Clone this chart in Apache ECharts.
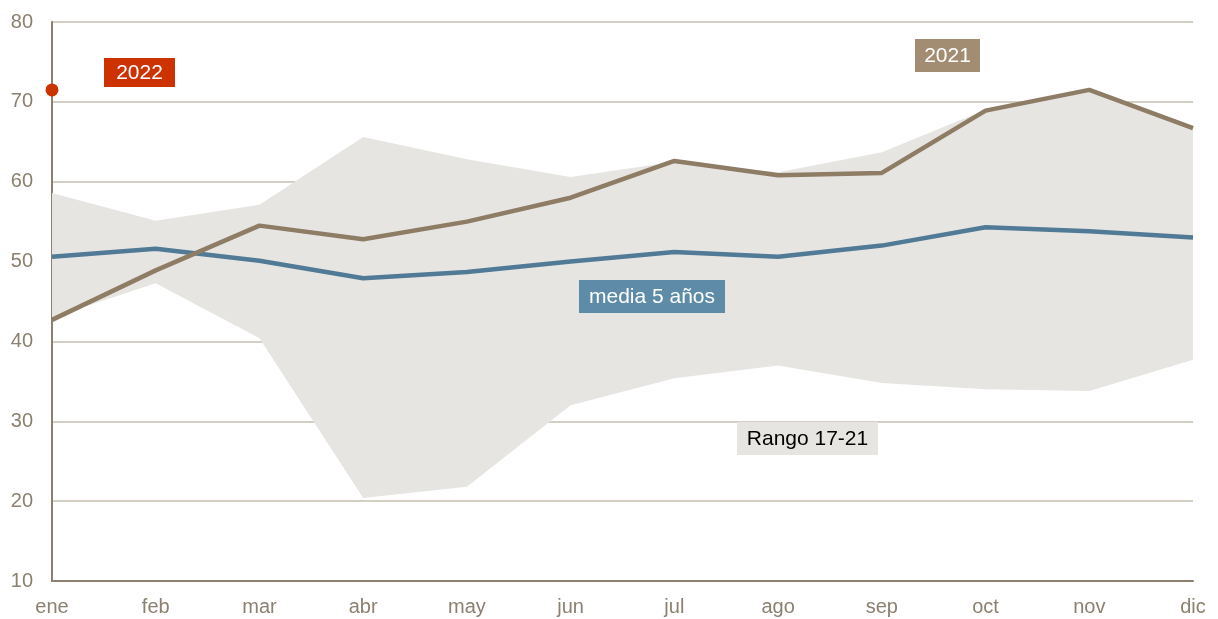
<!DOCTYPE html>
<html>
<head>
<meta charset="utf-8">
<script src="https://cdn.jsdelivr.net/npm/echarts@6/dist/echarts.min.js"></script>
<style>
  html, body { margin: 0; padding: 0; background: #fff; }
  #chart { width: 1218px; height: 619px; }
</style>
</head>
<body>
<div id="chart"></div>
<script>
// meses
var meses = ['ene', 'feb', 'mar', 'abr', 'may', 'jun', 'jul', 'ago', 'sep', 'oct', 'nov', 'dic'];
// rango 17-21
var rangoMin = [43.0, 47.3, 40.4, 20.4, 21.8, 32.0, 35.4, 37.0, 34.8, 34.0, 33.8, 37.7];
var rangoMax = [58.6, 55.1, 57.1, 65.6, 62.8, 60.6, 62.5, 61.2, 63.7, 69.0, 71.5, 66.7];
// media 5 años
var media = [50.6, 51.6, 50.1, 47.9, 48.7, 50.0, 51.2, 50.6, 52.0, 54.3, 53.8, 53.0];
// 2021
var y2021 = [42.7, 48.9, 54.5, 52.8, 55.0, 58.0, 62.6, 60.8, 61.1, 68.9, 71.5, 66.7];
// 2022
var y2022 = [71.5, null, null, null, null, null, null, null, null, null, null, null];

var rangoDiff = rangoMax.map(function (v, i) { return +(v - rangoMin[i]).toFixed(2); });

var txtColor = '#8c8070';
var font = 'Liberation Sans, Arial, sans-serif';

var myChart = echarts.init(document.getElementById('chart'));

function etiqueta(id, x, y, w, h, texto, fondo, color) {
    return {
        type: 'group',
        id: id,
        left: x, top: y,
        z: 100,
        children: [
            { type: 'rect', z: 100, shape: { x: 0, y: 0, width: w, height: h }, style: { fill: fondo } },
            { type: 'text', z: 101, x: w / 2, y: h / 2 + 1,
              style: { text: texto, fill: color, font: '21px ' + font, align: 'center', verticalAlign: 'middle' } }
        ]
    };
}

var option = {
    animation: false,
    grid: { left: 52, right: 25, top: 22, bottom: 38 },
    xAxis: {
        type: 'category',
        data: meses,
        boundaryGap: false,
        axisLine: { lineStyle: { color: txtColor, width: 2 } },
        axisTick: { show: false },
        axisLabel: { color: txtColor, fontSize: 20, fontFamily: font, margin: 16 },
        splitLine: { show: false }
    },
    yAxis: {
        type: 'value',
        min: 10, max: 80, interval: 10,
        axisLine: { show: true, lineStyle: { color: txtColor, width: 2 } },
        axisTick: { show: false },
        axisLabel: { color: txtColor, fontSize: 20, fontFamily: font, margin: 19 },
        splitLine: { lineStyle: { color: '#c5bfb2', width: 1.5 } }
    },
    series: [
        {
            name: 'min', type: 'line', stack: 'rango', data: rangoMin,
            symbol: 'none', lineStyle: { width: 0 }, areaStyle: { opacity: 0 }, z: 1
        },
        {
            name: 'Rango 17-21', type: 'line', stack: 'rango', data: rangoDiff,
            symbol: 'none', lineStyle: { width: 0 }, areaStyle: { color: '#e6e5e2', opacity: 1 }, z: 1
        },
        {
            name: 'media 5 años', type: 'line', data: media,
            symbol: 'none', lineStyle: { color: '#507a96', width: 4.5 }, z: 3
        },
        {
            name: '2021', type: 'line', data: y2021,
            symbol: 'none', lineStyle: { color: '#8e7c65', width: 4.5 }, z: 4
        },
        {
            name: '2022', type: 'line', data: y2022,
            symbol: 'circle', symbolSize: 13, showSymbol: true,
            itemStyle: { color: '#cc3300' }, lineStyle: { width: 0 }, z: 5
        }
    ],
    graphic: [
        etiqueta('l2022', 104, 58, 71, 29, '2022', '#cc3300', '#ffffff'),
        etiqueta('l2021', 915, 39, 65, 33, '2021', '#a38d72', '#ffffff'),
        etiqueta('lmedia', 579, 280, 146, 33, 'media 5 años', '#5e8ca8', '#ffffff'),
        etiqueta('lrango', 737, 422, 141, 33, 'Rango 17-21', '#e6e5e2', '#000000')
    ]
};
myChart.setOption(option, true);
</script>
</body>
</html>
